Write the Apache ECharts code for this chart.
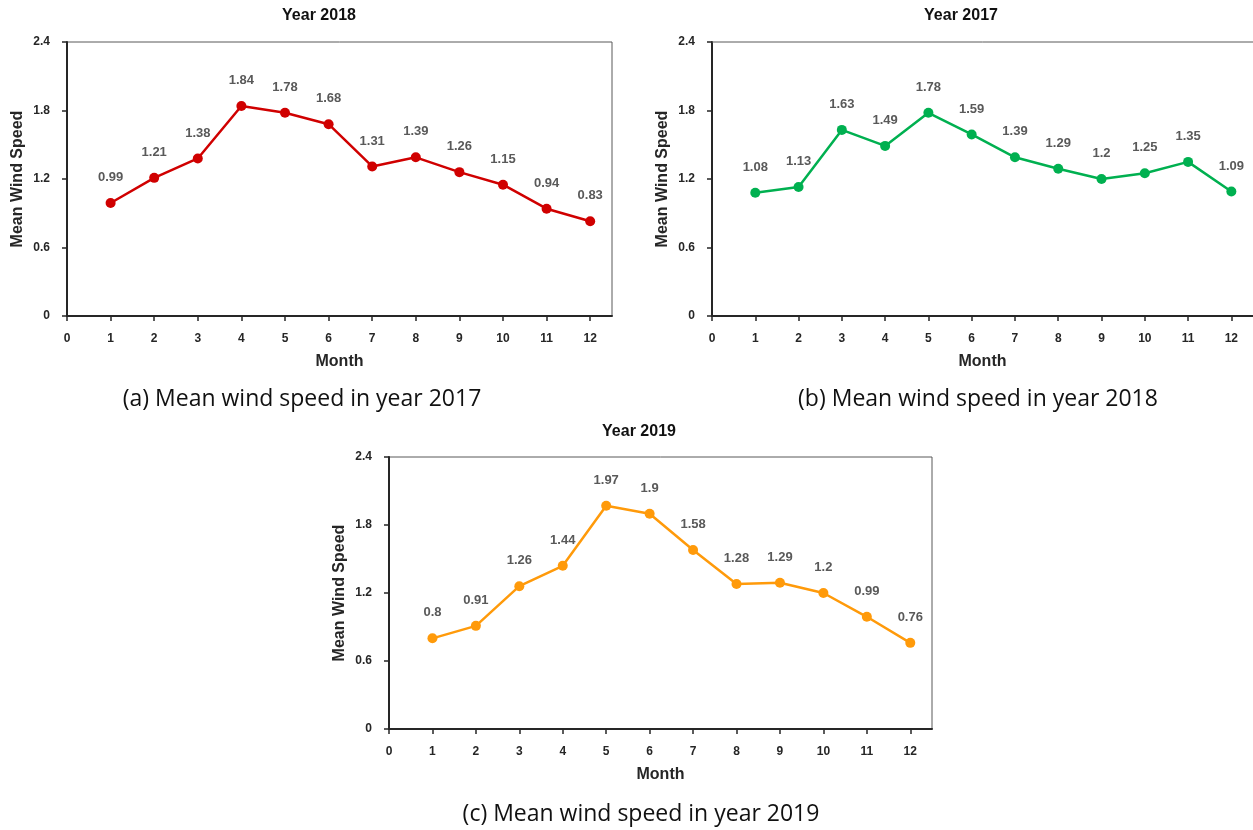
<!DOCTYPE html>
<html>
<head>
<meta charset="utf-8">
<title>Mean wind speed</title>
<script src="https://cdn.jsdelivr.net/npm/echarts@6/dist/echarts.min.js"></script>
<style>
  html, body { margin: 0; padding: 0; background: #ffffff; }
  #chart { width: 1253px; height: 830px; }
</style>
</head>
<body>
<div id="chart"></div>
<script>
// Months on the x axis and the tick values shown (0 through 12)
const months = [1, 2, 3, 4, 5, 6, 7, 8, 9, 10, 11, 12];
const xTicks = [0, 1, 2, 3, 4, 5, 6, 7, 8, 9, 10, 11, 12];

// Monthly mean wind speed per panel
const speedA = [0.99, 1.21, 1.38, 1.84, 1.78, 1.68, 1.31, 1.39, 1.26, 1.15, 0.94, 0.83];
const speedB = [1.08, 1.13, 1.63, 1.49, 1.78, 1.59, 1.39, 1.29, 1.2, 1.25, 1.35, 1.09];
const speedC = [0.8, 0.91, 1.26, 1.44, 1.97, 1.9, 1.58, 1.28, 1.29, 1.2, 0.99, 0.76];

// Panel headings and captions
const panelTitles = ['Year 2018', 'Year 2017', 'Year 2019'];
const captions = [
  '(a) Mean wind speed in year 2017',
  '(b) Mean wind speed in year 2018',
  '(c) Mean wind speed in year 2019'
];
const lineColors = ['#D00000', '#00B050', '#FF9A0A'];

const AX_FONT = 'Arial, "Liberation Sans", sans-serif';
const FRAME = '#595959';

// the upper-right panel runs slightly past the page edge, so its frame is
// drawn only along the top
const grids = [
  { left: 67,  top: 42,  width: 545, height: 274, frame: true },
  { left: 712, top: 42,  width: 546, height: 274, frame: false },
  { left: 389, top: 457, width: 543, height: 272, frame: true }
];

function pairs(vals) {
  return months.map((m, i) => [m, vals[i]]);
}

const chart = echarts.init(document.getElementById('chart'), null, { renderer: 'canvas' });

const axisLineStyle = { color: '#262626', width: 2 };

const option = {
  backgroundColor: '#ffffff',
  animation: false,
  grid: grids.map(g => ({
    left: g.left, top: g.top, width: g.width, height: g.height,
    show: true, borderColor: g.frame ? FRAME : 'transparent', borderWidth: g.frame ? 1 : 0,
    backgroundColor: 'transparent'
  })),
  xAxis: grids.map((g, i) => ({
    type: 'value',
    gridIndex: i,
    min: 0,
    max: 12.5,
    interval: 1,
    name: 'Month',
    nameLocation: 'middle',
    nameGap: 38,
    nameTextStyle: { fontFamily: AX_FONT, fontWeight: 'bold', fontSize: 16, color: '#262626' },
    axisLine: { show: true, onZero: false, lineStyle: axisLineStyle },
    axisTick: { show: true, inside: false, length: 5, lineStyle: { color: '#262626', width: 1.5 }, customValues: xTicks },
    axisLabel: {
      margin: 17, fontFamily: AX_FONT, fontWeight: 'bold', fontSize: 12, color: '#262626',
      customValues: xTicks
    },
    splitLine: { show: false }
  })),
  yAxis: grids.map((g, i) => ({
    type: 'value',
    gridIndex: i,
    min: 0,
    max: 2.4,
    interval: 0.6,
    name: 'Mean Wind Speed',
    nameLocation: 'middle',
    nameGap: 41,
    nameTextStyle: { fontFamily: AX_FONT, fontWeight: 'bold', fontSize: 16, color: '#262626' },
    axisLine: { show: true, onZero: false, lineStyle: axisLineStyle },
    axisTick: { show: true, inside: false, length: 5, lineStyle: { color: '#262626', width: 1.5 } },
    axisLabel: { margin: 17, fontFamily: AX_FONT, fontWeight: 'bold', fontSize: 12, color: '#262626' },
    splitLine: { show: false }
  })),
  series: [speedA, speedB, speedC].map((vals, i) => ({
    type: 'line',
    xAxisIndex: i,
    yAxisIndex: i,
    data: pairs(vals),
    symbol: 'circle',
    symbolSize: 10,
    lineStyle: { color: lineColors[i], width: 2.5 },
    itemStyle: { color: lineColors[i] },
    label: {
      show: true,
      position: 'top',
      distance: 14,
      fontFamily: AX_FONT,
      fontWeight: 'bold',
      fontSize: 13,
      color: '#595959',
      formatter: p => String(p.value[1])
    }
  })),
  graphic: [
    // top edge of the upper-right panel frame
    { type: 'line', shape: { x1: grids[1].left, y1: grids[1].top, x2: 1253, y2: grids[1].top }, style: { stroke: FRAME, lineWidth: 1 }, z: 1 },
    // panel headings
    { type: 'text', x: 319, y: 16, style: { text: panelTitles[0], font: 'bold 16px ' + AX_FONT, fill: '#111', align: 'center', verticalAlign: 'middle' } },
    { type: 'text', x: 961, y: 16, style: { text: panelTitles[1], font: 'bold 16px ' + AX_FONT, fill: '#111', align: 'center', verticalAlign: 'middle' } },
    { type: 'text', x: 639, y: 432, style: { text: panelTitles[2], font: 'bold 16px ' + AX_FONT, fill: '#111', align: 'center', verticalAlign: 'middle' } },
    // captions
    { type: 'text', x: 302, y: 399, style: { text: captions[0], font: '23px "Open Sans", sans-serif', fill: '#111', align: 'center', verticalAlign: 'middle' } },
    { type: 'text', x: 978, y: 399, style: { text: captions[1], font: '23px "Open Sans", sans-serif', fill: '#111', align: 'center', verticalAlign: 'middle' } },
    { type: 'text', x: 641, y: 814, style: { text: captions[2], font: '23px "Open Sans", sans-serif', fill: '#111', align: 'center', verticalAlign: 'middle' } }
  ]
};

chart.setOption(option);
</script>
</body>
</html>
